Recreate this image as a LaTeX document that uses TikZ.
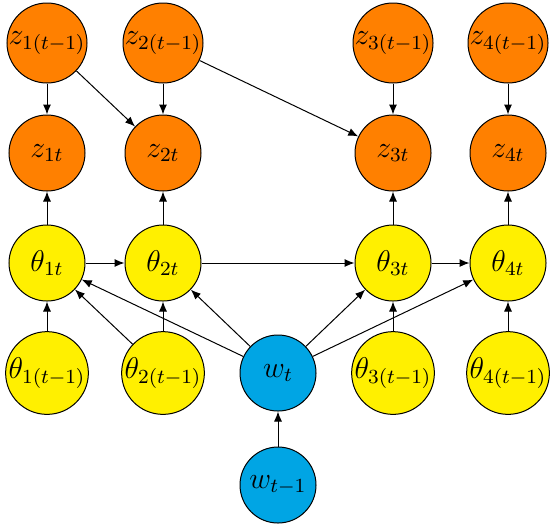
\documentclass[tikz,border=0pt]{standalone}
\usetikzlibrary{arrows.meta}
\definecolor{zorange}{RGB}{255,128,0}
\definecolor{tyellow}{RGB}{255,240,0}
\definecolor{wblue}{RGB}{0,165,228}
\begin{document}
\begin{tikzpicture}[x=0.4pt,y=-0.4pt,
  var/.style={circle,draw=black,line width=0.4pt,minimum size=30.4pt,inner sep=0pt,font=\large},
  zn/.style={var,fill=zorange},
  tn/.style={var,fill=tyellow},
  wn/.style={var,fill=wblue},
  edge/.style={-{Latex[length=4pt,width=3.2pt]},line width=0.4pt}]
\useasboundingbox (0,0) rectangle (550,528);
\node[zn] (z1p) at (47,43) {$z_{1(t-1)}$};
\node[zn] (z2p) at (163,43) {$z_{2(t-1)}$};
\node[zn] (z3p) at (393,43) {$z_{3(t-1)}$};
\node[zn] (z4p) at (508,43) {$z_{4(t-1)}$};
\node[zn] (z1) at (47,153) {$z_{1t}$};
\node[zn] (z2) at (163,153) {$z_{2t}$};
\node[zn] (z3) at (393,153) {$z_{3t}$};
\node[zn] (z4) at (508,153) {$z_{4t}$};
\node[tn] (t1) at (47,263) {$\theta_{1t}$};
\node[tn] (t2) at (163,263) {$\theta_{2t}$};
\node[tn] (t3) at (393,263) {$\theta_{3t}$};
\node[tn] (t4) at (508,263) {$\theta_{4t}$};
\node[tn] (t1p) at (47,373) {$\theta_{1(t-1)}$};
\node[tn] (t2p) at (163,373) {$\theta_{2(t-1)}$};
\node[tn] (t3p) at (393,373) {$\theta_{3(t-1)}$};
\node[tn] (t4p) at (508,373) {$\theta_{4(t-1)}$};
\node[wn] (w) at (278,373) {$w_t$};
\node[wn] (wp) at (278,485) {$w_{t-1}$};
\draw[edge] (z1p) -- (z1);
\draw[edge] (z1p) -- (z2);
\draw[edge] (z2p) -- (z2);
\draw[edge] (z2p) -- (z3);
\draw[edge] (z3p) -- (z3);
\draw[edge] (z4p) -- (z4);
\draw[edge] (t1) -- (z1);
\draw[edge] (t2) -- (z2);
\draw[edge] (t3) -- (z3);
\draw[edge] (t4) -- (z4);
\draw[edge] (t1) -- (t2);
\draw[edge] (t2) -- (t3);
\draw[edge] (t3) -- (t4);
\draw[edge] (t1p) -- (t1);
\draw[edge] (t2p) -- (t2);
\draw[edge] (t3p) -- (t3);
\draw[edge] (t4p) -- (t4);
\draw[edge] (t2p) -- (t1);
\draw[edge] (w) -- (t1);
\draw[edge] (w) -- (t2);
\draw[edge] (w) -- (t3);
\draw[edge] (w) -- (t4);
\draw[edge] (wp) -- (w);
\end{tikzpicture}
\end{document}
